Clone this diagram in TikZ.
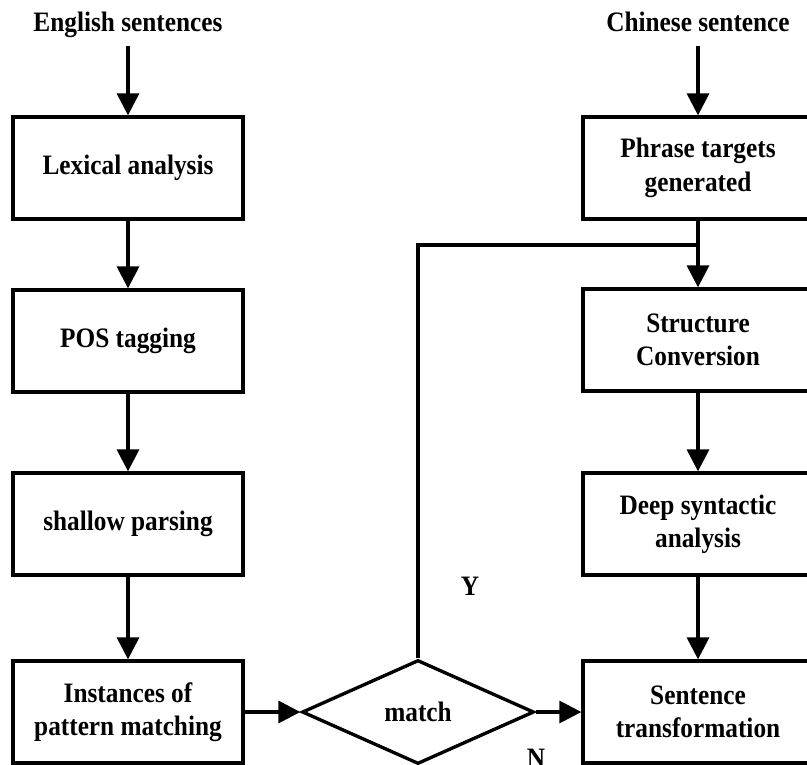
\documentclass[tikz,border=0pt]{standalone}
\usepackage{fontspec}
\setmainfont[FakeStretch=0.9]{Liberation Serif}
\usetikzlibrary{arrows.meta,shapes.geometric}

\tikzset{
  stage/.style={draw, line width=1.9pt, minimum width=4.6cm, minimum height=2.04cm, align=center, inner sep=2pt},
  decision/.style={diamond, draw, line width=1.9pt, minimum width=4.64cm, minimum height=2.08cm, inner sep=0pt},
  heading/.style={inner sep=6pt, text height=0.68em, text depth=0.22em},
  flow/.style={line width=1.9pt, -{Triangle[length=0.44cm,width=0.44cm]}},
  link/.style={line width=1.9pt}
}

\begin{document}
\begin{tikzpicture}[x=0.02cm, y=-0.02cm, font=\bfseries\fontsize{16}{19}\selectfont]
\useasboundingbox (0,0) rectangle (807,764);
\clip (0,0) rectangle (807,764);
\node[heading] (eng) at (128,27) {English sentences};
\node[heading] (chn) at (698,27) {Chinese sentence};
\node[stage] (lex) at (128,168) {Lexical analysis};
\node[stage] (pos) at (128,341) {POS tagging};
\node[stage] (shp) at (128,524) {shallow parsing};
\node[stage] (inst) at (128,712) {Instances of\\pattern matching};
\node[stage] (phr) at (698,168) {Phrase targets\\generated};
\node[stage] (struc) at (698,340) {Structure\\Conversion};
\node[stage] (deep) at (698,524) {Deep syntactic\\analysis};
\node[stage] (sent) at (698,712) {Sentence\\transformation};
\node[decision] (match) at (418,712) {match};
\coordinate (join) at (698,245);
\node (yes) at (470,586) {Y};
\node (no) at (536,758) {N};
\draw[flow] (eng) -- (lex);
\draw[flow] (lex) -- (pos);
\draw[flow] (pos) -- (shp);
\draw[flow] (shp) -- (inst);
\draw[flow] (inst) -- (match);
\draw[flow] (match) -- (sent);
\draw[flow] (chn) -- (phr);
\draw[flow] (phr) -- (struc);
\draw[flow] (struc) -- (deep);
\draw[flow] (deep) -- (sent);
\draw[link] (match.north) |- (join);
\end{tikzpicture}
\end{document}
